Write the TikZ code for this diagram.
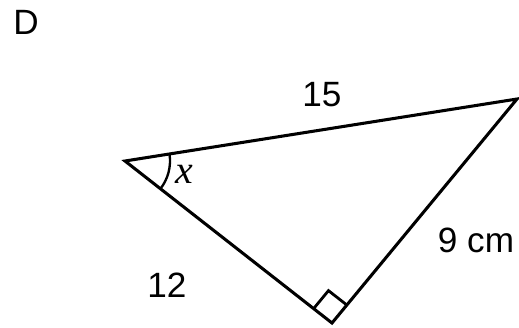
\documentclass[tikz,border=0pt]{standalone}
\usepackage{fontspec}
\setmainfont{Liberation Sans}
\newfontfamily\anglefont{Liberation Serif}
\usetikzlibrary{calc}
\begin{document}
\begin{tikzpicture}[x=0.03cm,y=-0.03cm,line width=2.6pt,
    lbl/.style={font=\fontsize{30}{34}\selectfont,inner sep=0pt}]
  \useasboundingbox (0,0) rectangle (519,327);
  % corners of the triangle
  \coordinate (A) at (125,161);
  \coordinate (C) at (517,99);
  \coordinate (B) at (332,323);
  \draw[line join=miter] (A) -- (C) -- (B) -- cycle;
  % right angle mark
  \coordinate (ra1) at ($(B)!0.7cm!(A)$);
  \coordinate (ra2) at ($(B)!0.7cm!(C)$);
  \draw[line width=2.4pt] (ra1) -- ($(ra1)+(ra2)-(B)$) -- (ra2);
  % angle x
  \draw[line width=2pt] (A) ++(-38:1.35cm) arc[start angle=-38,end angle=9.3,radius=1.35cm];
  \node[lbl] (lblD) at (26,22) {D};
  \node[lbl] (side15) at (322,95) {15};
  \node[lbl] (side9) at (476,240) {9 cm};
  \node[lbl] (side12) at (167,285) {12};
  \node[inner sep=0pt,font=\anglefont\itshape\fontsize{34}{36}\selectfont] (angx) at (184,174) {x};
\end{tikzpicture}
\end{document}
